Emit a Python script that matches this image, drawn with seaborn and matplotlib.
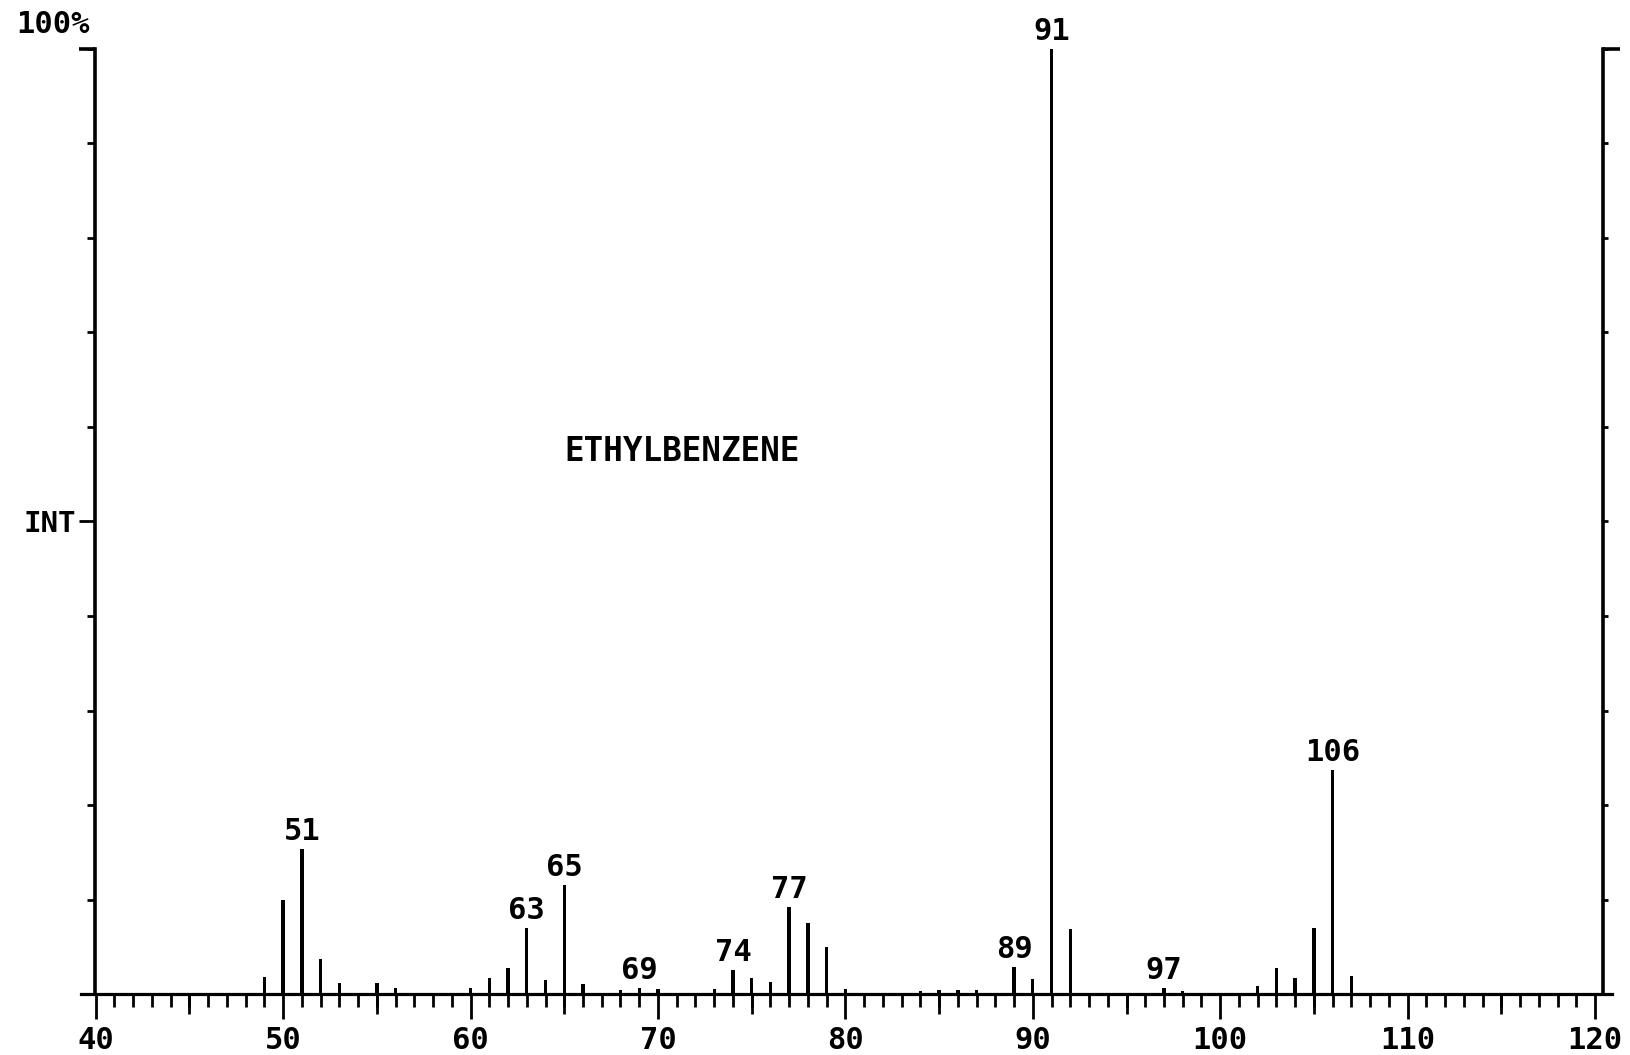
import matplotlib
matplotlib.use("Agg")
import matplotlib.pyplot as plt
import numpy as np
import pandas as pd
import seaborn as sns

# Electron-ionisation mass spectrum of ethylbenzene (relative intensity, %)
mz = [49, 50, 51, 52, 53, 55, 56, 60, 61, 62, 63, 64, 65, 66, 68, 69, 70,
      73, 74, 75, 76, 77, 78, 79, 80, 84, 85, 86, 87, 89, 90, 91, 92, 97,
      98, 102, 103, 104, 105, 106, 107]
rel_int = [1.8, 10.0, 15.3, 3.7, 1.2, 1.2, 0.6, 0.6, 1.7, 2.8, 7.0, 1.5,
           11.5, 1.1, 0.4, 0.6, 0.5, 0.5, 2.5, 1.7, 1.3, 9.2, 7.5, 5.0, 0.5,
           0.3, 0.4, 0.4, 0.4, 2.9, 1.6, 100.0, 6.9, 0.6, 0.3, 0.9, 2.8,
           1.7, 7.0, 23.7, 1.9]
labeled_peaks = [51, 63, 65, 69, 74, 77, 89, 91, 97, 106]
x_ticks = [40, 50, 60, 70, 80, 90, 100, 110, 120]
compound = "ETHYLBENZENE"
y_label = "INT"
scale_label = "100%"

sns.set_theme(style="white")
plt.rcParams["font.family"] = ["DejaVu Sans Mono", "DejaVu Sans"]
plt.rcParams["font.weight"] = "bold"
plt.rcParams["xtick.bottom"] = True
plt.rcParams["ytick.left"] = True

df = pd.DataFrame({"mz": mz, "intensity": rel_int})
peak_height = dict(zip(mz, rel_int))

fig = plt.figure(figsize=(16.31, 10.55), dpi=100)
ax = fig.add_axes([0.0495, 0.0578, 0.9388, 0.8958])

sns.barplot(data=df, x="mz", y="intensity", native_scale=True, width=0.18,
            color="black", saturation=1, linewidth=0, errorbar=None, ax=ax)

x_left, x_right = 39.2, 120.9
left_frame, right_frame = 39.95, 120.42
ax.set_xlim(x_left, x_right)
ax.set_ylim(0, 100)
ax.set_xlabel("")
ax.set_ylabel("")
ax.grid(False)

# frame: baseline across the whole width, left axis drawn at the m/z 40 edge
ax.spines["top"].set_visible(False)
ax.spines["right"].set_visible(False)
ax.spines["bottom"].set_linewidth(2.3)
ax.spines["left"].set_position(("data", left_frame))
ax.spines["left"].set_linewidth(2.6)
for s in ("bottom", "left"):
    ax.spines[s].set_color("black")

# x ticks: every unit, longer at 5s and 10s
ax.set_xticks(x_ticks)
ax.set_xticklabels([str(t) for t in x_ticks])
ax.set_xticks(np.arange(40, 121, 1), minor=True)
ax.tick_params(axis="x", which="major", bottom=True, direction="out",
               length=18, width=2, color="black", pad=5, labelsize=22,
               labelcolor="black")
ax.tick_params(axis="x", which="minor", bottom=True, direction="out",
               length=9.5, width=2, color="black")
mid = ax.secondary_xaxis("bottom")
mid.set_xticks(np.arange(45, 120, 10))
mid.tick_params(axis="x", bottom=True, direction="out", length=14.5, width=2,
                color="black", labelbottom=False)
mid.spines["bottom"].set_visible(False)

# y ticks: 10 % steps, the mid-scale one carries the INT label
ax.set_yticks([50])
ax.set_yticklabels([y_label])
ax.set_yticks(np.arange(0, 101, 10), minor=True)
ax.tick_params(axis="y", which="major", left=True, direction="out",
               length=11.5, width=2, color="black", pad=2, labelsize=21,
               labelcolor="black")
ax.tick_params(axis="y", which="minor", left=True, direction="out",
               length=5.5, width=2, color="black")

# right-hand scale bar
loc = (right_frame - x_left) / (x_right - x_left)
rscale = ax.secondary_yaxis(loc)
rscale.set_yticks(np.arange(0, 101, 10))
rscale.tick_params(axis="y", right=True, direction="out", length=3.5,
                   width=2, color="black", labelright=False)
rscale.spines["right"].set_linewidth(2.6)
rscale.spines["right"].set_color("black")

# corner hooks at full scale
ax.plot([39.1, left_frame], [100, 100], color="black", lw=2.6,
        clip_on=False, solid_capstyle="butt")
ax.plot([right_frame, 121.35], [100, 100], color="black", lw=2.6,
        clip_on=False, solid_capstyle="butt")

# peak labels
for m in labeled_peaks:
    ax.annotate(str(m), xy=(m, peak_height[m]), xytext=(0, 6.5),
                textcoords="offset points", ha="center", va="baseline",
                fontsize=22, fontweight="bold", color="black",
                annotation_clip=False)

ax.text(71.3, 56.4, compound, ha="center", va="baseline", fontsize=23.5,
        fontweight="bold", color="black")
fig.text(16 / 1631, 1 - 33 / 1055, scale_label, ha="left", va="baseline",
         fontsize=22, fontweight="bold", color="black")

fig.savefig("out.png", dpi=100, facecolor="white")
